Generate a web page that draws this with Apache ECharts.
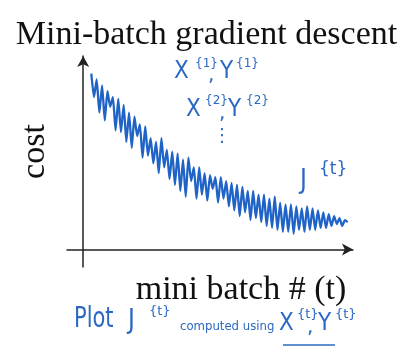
<!DOCTYPE html>
<html><head><meta charset="utf-8">
<script src="https://cdn.jsdelivr.net/npm/echarts@6/dist/echarts.min.js"></script>
<style>html,body{margin:0;padding:0;background:#fff}#c{width:413px;height:358px}</style>
</head><body><div id="c"></div>
<script>
const titleText = 'Mini-batch gradient descent';
const xAxisName = 'mini batch # (t)';
const yAxisName = 'cost';
const miniBatch = [3,4,5,6,7,8,9,10,11,12,13,14,15,16,17,18,19,20,21,22,23,24,25,26,27,28,29,30,31,32,33,34,35,36,37,38,39,40,41,42,43,44,45,46,47,48,49,50,51,52,53,54,55,56,57,58,59,60,61,62,63,64,65,66,67,68,69,70,71,72,73,74,75,76,77,78,79,80,81,82,83,84,85,86,87,88,89,90,91,92,93,94,95,96,97,98];
const cost = [90,78,87,70,84,66,81,73,78,61,77,60,74,55,70,52,68,58,64,47,63,48,57,44,55,39,57,42,51,36,50,33,49,30,46,27,47,35,42,26,42,28,39,25,38,31,37,24,37,26,35,22,34,20,33,17,32,19,30,15,30,16,28,14,28,12,26,11,27,10,24,9,23,9,23,8,22,10,21,9,22,10,21,10,20,11,19,11,18,12,17,13,16,12,15,14];
const noteTop1 = ['X', '{1}', ',', 'Y', '{1}'];
const noteTop2 = ['X', '{2}', ',', 'Y', '{2}'];
const noteJ = ['J', '{t}'];
const noteBottom = ['Plot', 'J', '{t}', 'computed using', 'X', '{t}', ',', 'Y', '{t}'];

const blue = '#2a68c2';
function hw(text, x, y, size, sx) {
  return { type: 'text', x: x, y: y, scaleX: sx || 1, z: 10,
    style: { text: text, x: 0, y: 0, align: 'left', verticalAlign: 'bottom',
      font: size + "px 'DejaVu Sans'", fill: blue } };
}
const graphics = [
  hw(noteTop1[0], 174, 84, 24, 0.9), hw(noteTop1[1], 195, 70, 12), hw(noteTop1[2], 208, 86, 20), hw(noteTop1[3], 220, 84, 24, 0.9), hw(noteTop1[4], 236, 70, 12),
  hw(noteTop2[0], 186, 122, 24, 0.9), hw(noteTop2[1], 205, 107, 12), hw(noteTop2[2], 219, 124, 20), hw(noteTop2[3], 228, 122, 24, 0.9), hw(noteTop2[4], 246, 107, 12),
  { type: 'text', x: 222, y: 136, z: 10, style: { text: '\u22EE', x: 0, y: 0, align: 'center', verticalAlign: 'middle', font: "18px 'DejaVu Sans'", fill: blue } },
  hw(noteJ[0], 300, 194, 26, 0.9), hw(noteJ[1], 319, 178, 17),
  hw(noteBottom[0], 74, 334, 28, 0.75), hw(noteBottom[1], 128, 334, 26, 0.9), hw(noteBottom[2], 149, 318, 13),
  hw(noteBottom[3], 180, 333, 13, 0.9),
  hw(noteBottom[4], 279, 336, 24, 0.9), hw(noteBottom[5], 297, 321, 13), hw(noteBottom[6], 307, 338, 20),
  hw(noteBottom[7], 318, 336, 24, 0.9), hw(noteBottom[8], 335, 321, 13),
  { type: 'line', z: 10, shape: { x1: 283, y1: 345, x2: 335, y2: 345 }, style: { stroke: blue, lineWidth: 1.5 } }
];

const chart = echarts.init(document.getElementById('c'), null, { renderer: 'canvas' });
const serif = "'Liberation Serif', 'DejaVu Serif', serif";
chart.setOption({
  animation: false,
  backgroundColor: '#fff',
  title: { text: titleText, left: 'center', top: 13,
    textStyle: { fontFamily: serif, fontSize: 34, fontWeight: 'normal', color: '#111' } },
  grid: { left: 67, right: 60, top: 56, bottom: 91, containLabel: false },
  xAxis: { type: 'value', min: -6, max: 100,
    name: xAxisName, nameLocation: 'middle', nameGap: 6,
    nameTextStyle: { fontFamily: serif, fontSize: 34, color: '#111', padding: [0, 0, 0, 62] },
    axisLine: { onZero: true, lineStyle: { color: '#222', width: 1.5 }, symbol: ['none', 'arrow'], symbolSize: [9, 11] },
    axisTick: { show: false }, axisLabel: { show: false }, splitLine: { show: false } },
  yAxis: { type: 'value', min: -9, max: 99,
    name: yAxisName, nameLocation: 'middle', nameGap: 15, nameRotate: 90,
    nameTextStyle: { fontFamily: serif, fontSize: 34, color: '#111', padding: [0, 0, 0, 20] },
    axisLine: { onZero: true, lineStyle: { color: '#222', width: 1.5 }, symbol: ['none', 'arrow'], symbolSize: [9, 11] },
    axisTick: { show: false }, axisLabel: { show: false }, splitLine: { show: false } },
  series: [{ type: 'line', data: miniBatch.map((t, i) => [t, cost[i]]),
    showSymbol: false, smooth: 0.15, lineStyle: { color: '#1f63c6', width: 2.3 } }],
  graphic: graphics
});
</script></body></html>
